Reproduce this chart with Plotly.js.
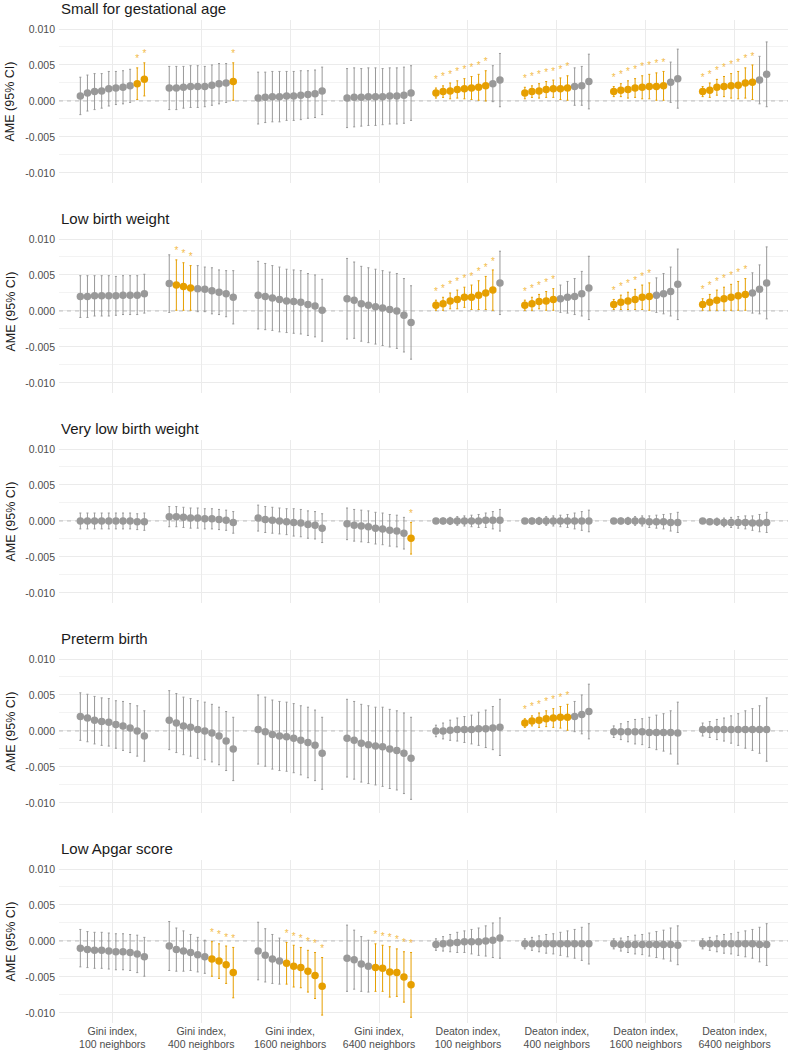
<!DOCTYPE html>
<html><head><meta charset="utf-8">
<script src="https://cdn.plot.ly/plotly-3.0.1.min.js"></script>
<style>html,body{margin:0;padding:0;background:#fff}#chart{width:790px;height:1052px}</style>
</head><body><div id="chart"></div>
<script>
const categories = ["Gini index,<br>100 neighbors","Gini index,<br>400 neighbors","Gini index,<br>1600 neighbors","Gini index,<br>6400 neighbors","Deaton index,<br>100 neighbors","Deaton index,<br>400 neighbors","Deaton index,<br>1600 neighbors","Deaton index,<br>6400 neighbors"];
const outcomeTitles = ["Small for gestational age","Low birth weight","Very low birth weight","Preterm birth","Low Apgar score"];
const yTickVals = [-0.01,-0.005,0,0.005,0.01];
const yTickText = ["-0.010","-0.005","0.000","0.005","0.010"];
const yMinorVals = [-0.0075,-0.0025,0.0025,0.0075];
const yAxisTitle = "AME (95% CI)";
const xRange = [0.4, 8.6];

// Small for gestational age: estimate, half-width of 95% CI, significance flag (8 groups x 10 models)
const sgaEst = [
 0.0007,0.0011,0.0013,0.0014,0.0017,0.0018,0.0019,0.0021,0.0024,0.0030,
 0.0018,0.0018,0.0019,0.0020,0.0020,0.0020,0.0022,0.0024,0.0025,0.0027,
 0.0004,0.0005,0.0006,0.0006,0.0007,0.0007,0.0008,0.0009,0.0010,0.0014,
 0.0004,0.0005,0.0005,0.0006,0.0006,0.0006,0.0007,0.0007,0.0008,0.0011,
 0.0011,0.0013,0.0014,0.0016,0.0017,0.0018,0.0019,0.0021,0.0024,0.0029,
 0.0011,0.0013,0.0014,0.0016,0.0017,0.0017,0.0018,0.0020,0.0021,0.0027,
 0.0013,0.0015,0.0016,0.0018,0.0019,0.0020,0.0020,0.0021,0.0026,0.0031,
 0.0013,0.0015,0.0019,0.0020,0.0021,0.0022,0.0025,0.0026,0.0029,0.0037];
const sgaCi = [
 0.0026,0.0025,0.0025,0.0024,0.0024,0.0023,0.0023,0.0023,0.0022,0.0023,
 0.0030,0.0030,0.0029,0.0029,0.0029,0.0028,0.0028,0.0028,0.0027,0.0026,
 0.0036,0.0035,0.0035,0.0035,0.0034,0.0034,0.0034,0.0033,0.0033,0.0033,
 0.0041,0.0041,0.0040,0.0040,0.0040,0.0039,0.0039,0.0039,0.0039,0.0038,
 0.0007,0.0008,0.0011,0.0012,0.0014,0.0016,0.0018,0.0021,0.0025,0.0037,
 0.0008,0.0008,0.0010,0.0011,0.0012,0.0015,0.0017,0.0026,0.0027,0.0038,
 0.0007,0.0009,0.0012,0.0013,0.0016,0.0017,0.0019,0.0020,0.0028,0.0041,
 0.0007,0.0010,0.0011,0.0014,0.0017,0.0019,0.0021,0.0024,0.0033,0.0045];
const sgaSig = [
 0,0,0,0,0,0,0,0,1,1,
 0,0,0,0,0,0,0,0,0,1,
 0,0,0,0,0,0,0,0,0,0,
 0,0,0,0,0,0,0,0,0,0,
 1,1,1,1,1,1,1,1,0,0,
 1,1,1,1,1,1,1,0,0,0,
 1,1,1,1,1,1,1,1,0,0,
 1,1,1,1,1,1,1,1,0,0];

// Low birth weight
const lbwEst = [
 0.0020,0.0020,0.0021,0.0021,0.0021,0.0021,0.0022,0.0022,0.0022,0.0024,
 0.0038,0.0036,0.0034,0.0032,0.0031,0.0030,0.0028,0.0026,0.0024,0.0019,
 0.0022,0.0020,0.0018,0.0016,0.0014,0.0013,0.0012,0.0009,0.0007,0.0001,
 0.0017,0.0015,0.0010,0.0008,0.0006,0.0004,0.0002,0.0000,-0.0006,-0.0016,
 0.0008,0.0010,0.0014,0.0016,0.0019,0.0019,0.0022,0.0025,0.0029,0.0039,
 0.0008,0.0010,0.0013,0.0014,0.0016,0.0017,0.0019,0.0020,0.0024,0.0032,
 0.0009,0.0012,0.0014,0.0016,0.0019,0.0020,0.0022,0.0024,0.0027,0.0037,
 0.0009,0.0012,0.0015,0.0017,0.0019,0.0021,0.0023,0.0025,0.0030,0.0039];
const lbwCi = [
 0.0029,0.0029,0.0028,0.0028,0.0028,0.0027,0.0027,0.0027,0.0027,0.0027,
 0.0040,0.0035,0.0033,0.0031,0.0032,0.0031,0.0032,0.0031,0.0032,0.0037,
 0.0047,0.0046,0.0045,0.0045,0.0044,0.0044,0.0044,0.0043,0.0043,0.0043,
 0.0056,0.0053,0.0052,0.0052,0.0052,0.0052,0.0052,0.0052,0.0051,0.0051,
 0.0007,0.0009,0.0011,0.0013,0.0014,0.0017,0.0020,0.0023,0.0028,0.0044,
 0.0007,0.0009,0.0010,0.0013,0.0015,0.0019,0.0022,0.0025,0.0031,0.0044,
 0.0007,0.0010,0.0012,0.0014,0.0017,0.0019,0.0024,0.0028,0.0034,0.0049,
 0.0008,0.0011,0.0014,0.0016,0.0018,0.0020,0.0022,0.0028,0.0034,0.0050];
const lbwSig = [
 0,0,0,0,0,0,0,0,0,0,
 0,1,1,1,0,0,0,0,0,0,
 0,0,0,0,0,0,0,0,0,0,
 0,0,0,0,0,0,0,0,0,0,
 1,1,1,1,1,1,1,1,1,0,
 1,1,1,1,1,0,0,0,0,0,
 1,1,1,1,1,1,0,0,0,0,
 1,1,1,1,1,1,1,0,0,0];

// Very low birth weight
const vlbwEst = [
 0.0000,0.0000,0.0000,0.0000,0.0000,0.0000,0.0000,0.0000,-0.0001,-0.0001,
 0.0006,0.0006,0.0005,0.0004,0.0004,0.0003,0.0003,0.0002,0.0001,-0.0002,
 0.0004,0.0002,0.0001,0.0000,-0.0001,-0.0002,-0.0003,-0.0005,-0.0006,-0.0010,
 -0.0004,-0.0006,-0.0007,-0.0008,-0.0010,-0.0011,-0.0013,-0.0014,-0.0017,-0.0024,
 0.0000,0.0000,0.0000,0.0000,0.0000,0.0000,0.0000,0.0001,0.0001,0.0001,
 0.0000,0.0000,0.0000,0.0000,0.0000,0.0000,0.0000,0.0000,0.0000,0.0000,
 0.0000,0.0000,0.0000,0.0000,0.0000,-0.0001,-0.0001,-0.0001,-0.0002,-0.0002,
 0.0000,-0.0001,-0.0001,-0.0002,-0.0002,-0.0002,-0.0002,-0.0003,-0.0003,-0.0002];
const vlbwCi = [
 0.0011,0.0011,0.0011,0.0011,0.0011,0.0011,0.0011,0.0011,0.0011,0.0012,
 0.0014,0.0014,0.0014,0.0014,0.0014,0.0014,0.0014,0.0014,0.0014,0.0015,
 0.0018,0.0018,0.0018,0.0018,0.0018,0.0019,0.0019,0.0019,0.0019,0.0020,
 0.0022,0.0022,0.0022,0.0022,0.0022,0.0022,0.0022,0.0022,0.0022,0.0022,
 0.0003,0.0004,0.0005,0.0006,0.0007,0.0008,0.0009,0.0010,0.0012,0.0015,
 0.0003,0.0004,0.0005,0.0006,0.0007,0.0008,0.0009,0.0011,0.0013,0.0015,
 0.0003,0.0004,0.0005,0.0006,0.0007,0.0008,0.0009,0.0010,0.0012,0.0014,
 0.0003,0.0004,0.0005,0.0006,0.0007,0.0008,0.0009,0.0010,0.0012,0.0014];
const vlbwSig = [
 0,0,0,0,0,0,0,0,0,0,
 0,0,0,0,0,0,0,0,0,0,
 0,0,0,0,0,0,0,0,0,0,
 0,0,0,0,0,0,0,0,0,1,
 0,0,0,0,0,0,0,0,0,0,
 0,0,0,0,0,0,0,0,0,0,
 0,0,0,0,0,0,0,0,0,0,
 0,0,0,0,0,0,0,0,0,0];

// Preterm birth
const ptbEst = [
 0.0020,0.0018,0.0015,0.0013,0.0012,0.0009,0.0007,0.0004,0.0000,-0.0007,
 0.0015,0.0011,0.0007,0.0005,0.0002,0.0000,-0.0003,-0.0007,-0.0014,-0.0025,
 0.0002,-0.0001,-0.0005,-0.0007,-0.0008,-0.0010,-0.0013,-0.0016,-0.0020,-0.0031,
 -0.0010,-0.0013,-0.0017,-0.0019,-0.0021,-0.0022,-0.0025,-0.0027,-0.0031,-0.0038,
 0.0000,0.0000,0.0001,0.0002,0.0002,0.0002,0.0003,0.0003,0.0004,0.0005,
 0.0011,0.0014,0.0015,0.0017,0.0018,0.0019,0.0019,0.0020,0.0023,0.0027,
 -0.0001,-0.0001,-0.0001,-0.0001,-0.0001,-0.0002,-0.0002,-0.0002,-0.0002,-0.0003,
 0.0002,0.0002,0.0002,0.0002,0.0002,0.0002,0.0002,0.0002,0.0002,0.0002];
const ptbCi = [
 0.0033,0.0033,0.0033,0.0033,0.0033,0.0033,0.0034,0.0034,0.0035,0.0035,
 0.0041,0.0041,0.0040,0.0040,0.0040,0.0040,0.0040,0.0040,0.0041,0.0044,
 0.0048,0.0048,0.0048,0.0048,0.0048,0.0048,0.0048,0.0049,0.0049,0.0050,
 0.0054,0.0054,0.0054,0.0054,0.0054,0.0055,0.0055,0.0055,0.0056,0.0057,
 0.0008,0.0011,0.0014,0.0016,0.0018,0.0020,0.0023,0.0026,0.0030,0.0039,
 0.0006,0.0007,0.0010,0.0011,0.0013,0.0015,0.0018,0.0021,0.0027,0.0038,
 0.0008,0.0011,0.0014,0.0017,0.0018,0.0021,0.0024,0.0026,0.0030,0.0043,
 0.0009,0.0011,0.0014,0.0016,0.0019,0.0022,0.0026,0.0029,0.0033,0.0044];
const ptbSig = [
 0,0,0,0,0,0,0,0,0,0,
 0,0,0,0,0,0,0,0,0,0,
 0,0,0,0,0,0,0,0,0,0,
 0,0,0,0,0,0,0,0,0,0,
 0,0,0,0,0,0,0,0,0,0,
 1,1,1,1,1,1,1,0,0,0,
 0,0,0,0,0,0,0,0,0,0,
 0,0,0,0,0,0,0,0,0,0];

// Low Apgar score
const apgEst = [
 -0.0010,-0.0012,-0.0013,-0.0013,-0.0014,-0.0015,-0.0015,-0.0016,-0.0018,-0.0022,
 -0.0007,-0.0012,-0.0014,-0.0016,-0.0019,-0.0022,-0.0025,-0.0028,-0.0033,-0.0044,
 -0.0014,-0.0020,-0.0025,-0.0028,-0.0031,-0.0035,-0.0037,-0.0042,-0.0048,-0.0063,
 -0.0024,-0.0026,-0.0032,-0.0035,-0.0037,-0.0038,-0.0043,-0.0044,-0.0050,-0.0061,
 -0.0005,-0.0004,-0.0003,-0.0002,-0.0001,-0.0001,-0.0001,0.0000,0.0001,0.0004,
 -0.0004,-0.0004,-0.0004,-0.0004,-0.0004,-0.0004,-0.0004,-0.0004,-0.0004,-0.0004,
 -0.0004,-0.0005,-0.0005,-0.0005,-0.0005,-0.0005,-0.0005,-0.0005,-0.0005,-0.0006,
 -0.0004,-0.0004,-0.0004,-0.0004,-0.0004,-0.0004,-0.0004,-0.0004,-0.0005,-0.0005];
const apgCi = [
 0.0026,0.0025,0.0025,0.0025,0.0025,0.0025,0.0025,0.0025,0.0026,0.0027,
 0.0034,0.0030,0.0028,0.0025,0.0024,0.0023,0.0024,0.0024,0.0026,0.0035,
 0.0040,0.0037,0.0034,0.0032,0.0029,0.0029,0.0028,0.0029,0.0032,0.0040,
 0.0046,0.0041,0.0038,0.0036,0.0033,0.0032,0.0035,0.0033,0.0035,0.0045,
 0.0008,0.0010,0.0012,0.0014,0.0015,0.0017,0.0019,0.0021,0.0024,0.0028,
 0.0007,0.0009,0.0011,0.0013,0.0014,0.0016,0.0018,0.0020,0.0023,0.0028,
 0.0007,0.0009,0.0011,0.0013,0.0014,0.0016,0.0018,0.0020,0.0023,0.0027,
 0.0007,0.0009,0.0011,0.0013,0.0014,0.0016,0.0018,0.0020,0.0024,0.0029];
const apgSig = [
 0,0,0,0,0,0,0,0,0,0,
 0,0,0,0,0,0,1,1,1,1,
 0,0,0,0,1,1,1,1,1,1,
 0,0,0,0,1,1,1,1,1,1,
 0,0,0,0,0,0,0,0,0,0,
 0,0,0,0,0,0,0,0,0,0,
 0,0,0,0,0,0,0,0,0,0,
 0,0,0,0,0,0,0,0,0,0];

const panels = [
  {est: sgaEst, ci: sgaCi, sig: sgaSig},
  {est: lbwEst, ci: lbwCi, sig: lbwSig},
  {est: vlbwEst, ci: vlbwCi, sig: vlbwSig},
  {est: ptbEst, ci: ptbCi, sig: ptbSig},
  {est: apgEst, ci: apgCi, sig: apgSig}
];

// ---- styling / layout constants ----
const GRAY = '#999999', ORANGE = '#E69F00', STAR = '#F3BC4C';
const GRID = '#ebebeb';
const FONT = 'Liberation Sans, Arial, sans-serif';
const PER_GROUP = 10, DODGE = 0.8;
const STAR_OFFSET = 0.0011;
const H = 1052, T = 20, B = 29;
const plotH = H - T - B;
const panelTopsPx = [20, 230, 440, 650, 860];
const panelPx = 163;
const yRange = [-0.0114, 0.01125];

const traces = [];
const layout = {
  width: 790, height: 1052,
  margin: {l: 59, r: 2, t: T, b: B},
  paper_bgcolor: '#fff', plot_bgcolor: '#fff',
  showlegend: false,
  font: {family: FONT, color: '#4d4d4d'},
  annotations: []
};

panels.forEach((p, pi) => {
  const s = pi === 0 ? '' : String(pi + 1);
  const xa = 'x' + s, ya = 'y' + s;
  // dashed reference line at zero (drawn first, behind the estimates)
  traces.push({
    type: 'scatter', mode: 'lines', xaxis: xa, yaxis: ya,
    x: xRange, y: [0, 0],
    line: {color: '#bdbdbd', width: 1, dash: '4px,4px'}, hoverinfo: 'skip'
  });
  const xs = p.est.map((_, k) => {
    const g = Math.floor(k / PER_GROUP), i = k % PER_GROUP;
    return g + 1 + (i - (PER_GROUP - 1) / 2) * DODGE / PER_GROUP;
  });
  [0, 1].forEach(flag => {
    const idx = p.est.map((_, k) => k).filter(k => p.sig[k] === flag);
    const col = flag ? ORANGE : GRAY;
    traces.push({
      type: 'scatter', mode: 'markers', xaxis: xa, yaxis: ya,
      x: idx.map(k => xs[k]), y: idx.map(k => p.est[k]),
      marker: {color: col, size: 7.5},
      error_y: {type: 'data', symmetric: true, array: idx.map(k => p.ci[k]), color: col, thickness: 1, width: 1},
      hoverinfo: 'skip'
    });
  });
  const sIdx = p.est.map((_, k) => k).filter(k => p.sig[k] === 1);
  if (sIdx.length) {
    traces.push({
      type: 'scatter', mode: 'text', xaxis: xa, yaxis: ya,
      x: sIdx.map(k => xs[k]), y: sIdx.map(k => p.est[k] + p.ci[k] + STAR_OFFSET),
      text: sIdx.map(() => '*'), textposition: 'middle center',
      textfont: {color: STAR, size: 10, family: FONT}, hoverinfo: 'skip'
    });
  }
  const top = 1 - (panelTopsPx[pi] - T) / plotH;
  const bot = 1 - (panelTopsPx[pi] + panelPx - T) / plotH;
  layout['xaxis' + s] = {
    domain: [0, 1], anchor: ya, range: xRange,
    tickmode: 'array', tickvals: categories.map((_, i) => i + 1), ticktext: categories,
    showticklabels: pi === panels.length - 1,
    tickfont: {size: 10.5, color: '#4d4d4d', family: FONT},
    showgrid: true, gridcolor: GRID, gridwidth: 1, zeroline: false, showline: false, ticks: ''
  };
  if (pi > 0) layout['xaxis' + s].matches = 'x';
  layout['yaxis' + s] = {
    domain: [Math.max(0, bot), Math.min(1, top)], anchor: xa, range: yRange,
    tickmode: 'array', tickvals: yTickVals, ticktext: yTickText,
    tickfont: {size: 10.5, color: '#4d4d4d', family: FONT},
    ticklabelstandoff: 3,
    showgrid: true, gridcolor: GRID, gridwidth: 1, zeroline: false, showline: false, ticks: '',
    minor: {tickmode: 'array', tickvals: yMinorVals, showgrid: true, gridcolor: GRID, gridwidth: 0.6, ticks: ''}
  };
  layout.annotations.push({
    text: outcomeTitles[pi], xref: 'paper', x: 0, xanchor: 'left',
    yref: ya + ' domain', y: 1, yanchor: 'bottom', yshift: 1, showarrow: false,
    font: {size: 15, color: '#1a1a1a', family: FONT}
  });
  layout.annotations.push({
    text: yAxisTitle, textangle: -90, xref: 'paper', x: -49 / 729, xanchor: 'center',
    yref: ya + ' domain', y: 0.5, yanchor: 'middle', showarrow: false,
    font: {size: 12.5, color: '#1a1a1a', family: FONT}
  });
});

Plotly.newPlot('chart', traces, layout, {displayModeBar: false, staticPlot: true});
</script>
</body></html>
